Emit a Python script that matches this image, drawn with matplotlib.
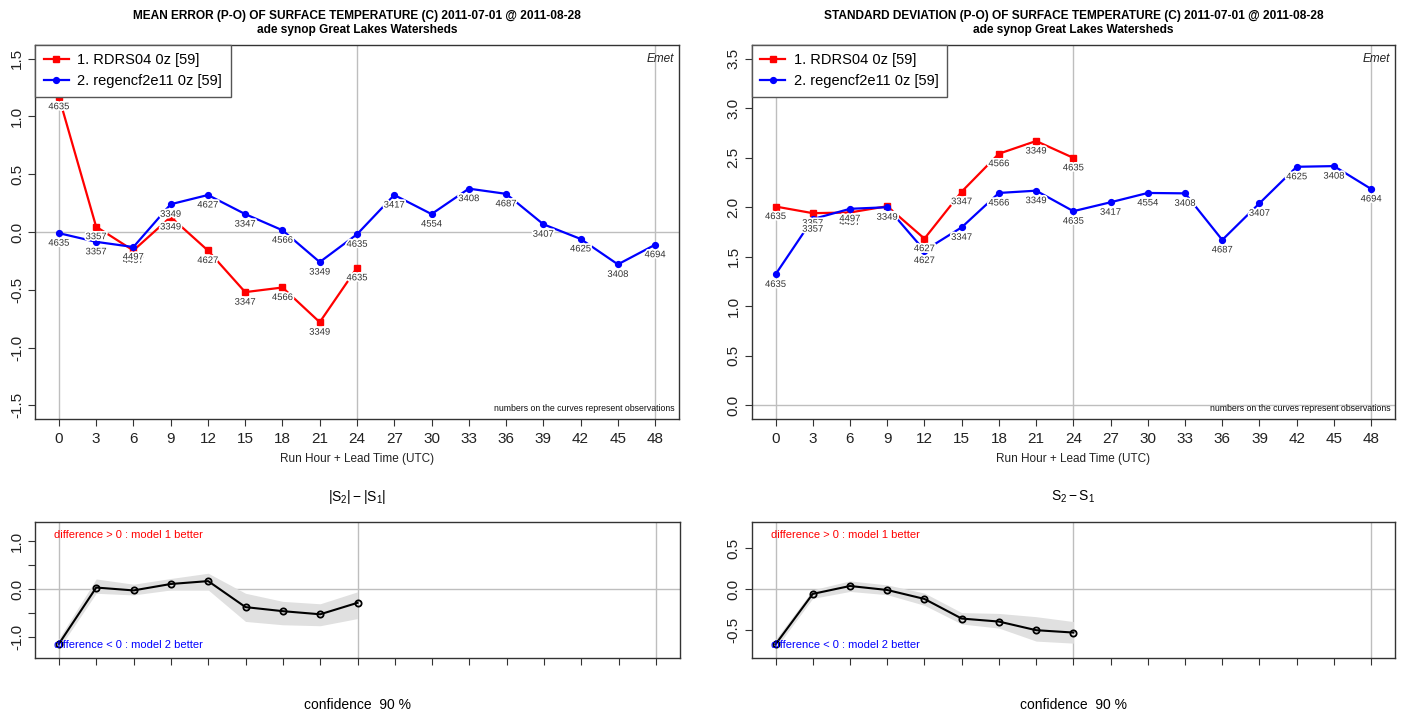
import matplotlib
matplotlib.use("Agg")
import matplotlib.pyplot as plt
import matplotlib.patheffects as pe
from matplotlib import font_manager

# ---------------- data ----------------
hours = [0, 3, 6, 9, 12, 15, 18, 21, 24, 27, 30, 33, 36, 39, 42, 45, 48]
hours_rdrs = hours[:9]

model1_name = "1. RDRS04 0z [59]"
model2_name = "2. regencf2e11 0z [59]"

# mean error (P-O)
bias_rdrs = [1.17, 0.046, -0.16, 0.13, -0.16, -0.52, -0.48, -0.78, -0.31]
bias_regen = [-0.01, -0.085, -0.13, 0.24, 0.32, 0.155, 0.015, -0.26, -0.02,
              0.32, 0.155, 0.375, 0.33, 0.067, -0.06, -0.28, -0.11]

# standard deviation (P-O)
std_rdrs = [2.007, 1.94, 1.947, 2.01, 1.683, 2.157, 2.54, 2.668, 2.498]
std_regen = [1.322, 1.88, 1.984, 2.0, 1.563, 1.797, 2.144, 2.167, 1.96,
             2.05, 2.144, 2.14, 1.67, 2.04, 2.408, 2.415, 2.184]

# number of observations at each lead time
obs_rdrs = [4635, 3357, 4497, 3349, 4627, 3347, 4566, 3349, 4635]
obs_regen = [4635, 3357, 4497, 3349, 4627, 3347, 4566, 3349, 4635,
             3417, 4554, 3408, 4687, 3407, 4625, 3408, 4694]

# |S2|-|S1| of the mean error, with 90 % confidence band
bias_diff = [-1.15, 0.03, -0.03, 0.105, 0.165, -0.38, -0.465, -0.53, -0.29]
bias_diff_lo = [-1.25, -0.09, -0.125, -0.02, -0.02, -0.68, -0.75, -0.77, -0.62]
bias_diff_hi = [-1.04, 0.21, 0.10, 0.22, 0.33, -0.09, -0.26, -0.31, -0.06]

# S2-S1 of the standard deviation, with 90 % confidence band
std_diff = [-0.68, -0.06, 0.037, -0.012, -0.122, -0.363, -0.40, -0.506, -0.535]
std_diff_lo = [-0.73, -0.115, -0.03, -0.07, -0.20, -0.43, -0.48, -0.64, -0.665]
std_diff_hi = [-0.62, -0.01, 0.10, 0.05, -0.05, -0.29, -0.30, -0.34, -0.40]

title_bias = "MEAN ERROR (P-O) OF SURFACE TEMPERATURE (C) 2011-07-01 @ 2011-08-28"
title_std = "STANDARD DEVIATION (P-O) OF SURFACE TEMPERATURE (C) 2011-07-01 @ 2011-08-28"
subtitle = "ade synop Great Lakes Watersheds"
xlabel = "Run Hour + Lead Time (UTC)"

bias_ticks = [-1.5, -1.0, -0.5, 0.0, 0.5, 1.0, 1.5]
std_ticks = [0.0, 0.5, 1.0, 1.5, 2.0, 2.5, 3.0, 3.5]

# ---------------- style ----------------
names = {f.name for f in font_manager.fontManager.ttflist}
base_font = "Liberation Sans" if "Liberation Sans" in names else "DejaVu Sans"
plt.rcParams["font.family"] = [base_font, "DejaVu Sans"]
plt.rcParams["mathtext.fontset"] = "custom"
plt.rcParams["mathtext.rm"] = base_font
plt.rcParams["mathtext.it"] = base_font + ":italic"

W, H = 1405, 715
fig = plt.figure(figsize=(W / 100, H / 100), dpi=100)

RED = "#ff0000"
BLUE = "#0000ff"
GRID = "#bebebe"
FRAME = "#333333"
XLIM = (-1.92, 49.92)


def px_axes(left, top, right, bottom):
    return fig.add_axes([left / W, 1 - bottom / H, (right - left) / W, (bottom - top) / H])


def style_axes(ax):
    for s in ax.spines.values():
        s.set_color(FRAME)
        s.set_linewidth(1.0)
    ax.tick_params(direction="out", length=5, width=0.8, color=FRAME,
                   labelsize=11, labelcolor="#222222")
    ax.set_xlim(*XLIM)
    ax.set_xticks(hours)
    for xv in (0, 24, 48):
        ax.axvline(xv, color=GRID, lw=1.0, zorder=0)
    ax.axhline(0, color=GRID, lw=1.0, zorder=0)


halo = [pe.withStroke(linewidth=2.5, foreground="white")]


def curve(ax, x, y, obs, color, marker, ms, label):
    ax.plot(x, y, color=color, lw=1.6, marker=marker, ms=ms, mec=color,
            mfc=color, label=label, zorder=3)
    for xi, yi, n in zip(x, y, obs):
        ax.annotate(str(n), (xi, yi), xytext=(0, -7.2), textcoords="offset points",
                    ha="center", va="center", fontsize=6.8, color="#333333",
                    path_effects=halo, zorder=4)


def main_panel(ax, title, r_y, r_obs, g_y, g_obs, ylim, yticks):
    style_axes(ax)
    ax.set_ylim(*ylim)
    ax.set_yticks(yticks)
    ax.set_yticklabels([f"{v:.1f}" for v in yticks], rotation=90, va="center")
    ax.set_xticklabels([str(h) for h in hours], fontsize=11)
    ax.tick_params(axis="x", pad=4)
    ax.tick_params(axis="y", pad=3)
    curve(ax, hours_rdrs, r_y, r_obs, RED, "s", 4.5, model1_name)
    curve(ax, hours, g_y, g_obs, BLUE, "o", 4.2, model2_name)
    leg = ax.legend(loc="upper left", bbox_to_anchor=(0, 1), borderaxespad=0,
                    fancybox=False, framealpha=1, edgecolor="#555555",
                    fontsize=10.5, handlelength=1.7, handletextpad=0.6,
                    borderpad=0.6, labelspacing=0.45)
    leg.get_frame().set_linewidth(1.0)
    ax.text(0.993, 0.963, "Emet", transform=ax.transAxes, ha="right", va="center",
            fontsize=8.5, style="italic", color="#222222")
    ax.text(0.993, 0.03, "numbers on the curves represent observations",
            transform=ax.transAxes, ha="right", va="center", fontsize=6.3,
            color="#111111")
    ax.set_xlabel(xlabel, fontsize=8.5, labelpad=5, color="#222222")
    cx = (ax.get_position().x0 + ax.get_position().x1) / 2
    fig.text(cx, 1 - 16 / H, title, ha="center", va="center", fontsize=8.6,
             fontweight="bold")
    fig.text(cx, 1 - 30 / H, subtitle, ha="center", va="center", fontsize=8.6,
             fontweight="bold")


def diff_panel(ax, title, d, lo, hi, ylim, yticks, ylabels):
    style_axes(ax)
    ax.set_ylim(*ylim)
    ax.set_yticks(yticks)
    ax.set_yticklabels(ylabels, rotation=90, va="center")
    ax.set_xticklabels([])
    ax.tick_params(axis="y", pad=3)
    ax.fill_between(hours_rdrs, lo, hi, color="#e0e0e0", lw=0, zorder=1)
    ax.plot(hours_rdrs, d, color="black", lw=1.5, marker="o", ms=4.5,
            mfc="none", mec="black", mew=1.3, zorder=3)
    ax.text(0.03, 0.905, "difference > 0 : model 1 better", transform=ax.transAxes,
            ha="left", va="center", fontsize=8, color=RED, zorder=5)
    ax.text(0.03, 0.09, "difference < 0 : model 2 better", transform=ax.transAxes,
            ha="left", va="center", fontsize=8, color=BLUE, zorder=5)
    cx = (ax.get_position().x0 + ax.get_position().x1) / 2
    fig.text(cx, 1 - 497 / H, title, ha="center", va="center", fontsize=10)
    fig.text(cx, 1 - 705 / H, "confidence  90 %", ha="center", va="center", fontsize=10)


ax_bias = px_axes(35, 44.7, 679, 419.3)
ax_std = px_axes(751.7, 44.7, 1395, 419.3)
ax_bdiff = px_axes(35, 521.7, 680, 657.7)
ax_sdiff = px_axes(751.7, 521.7, 1395, 657.7)

main_panel(ax_bias, title_bias, bias_rdrs, obs_rdrs, bias_regen, obs_regen,
           (-1.62, 1.62), bias_ticks)
main_panel(ax_std, title_std, std_rdrs, obs_rdrs, std_regen, obs_regen,
           (-0.14, 3.64), std_ticks)

diff_panel(ax_bdiff, r"$|\mathrm{S}_2| - |\mathrm{S}_1|$", bias_diff, bias_diff_lo,
           bias_diff_hi, (-1.44, 1.41), [-1.0, -0.5, 0.0, 0.5, 1.0],
           ["-1.0", "", "0.0", "", "1.0"])
diff_panel(ax_sdiff, r"$\mathrm{S}_2 - \mathrm{S}_1$", std_diff, std_diff_lo,
           std_diff_hi, (-0.844, 0.827), [-0.5, 0.0, 0.5], ["-0.5", "0.0", "0.5"])

fig.savefig("out.png", dpi=100)
